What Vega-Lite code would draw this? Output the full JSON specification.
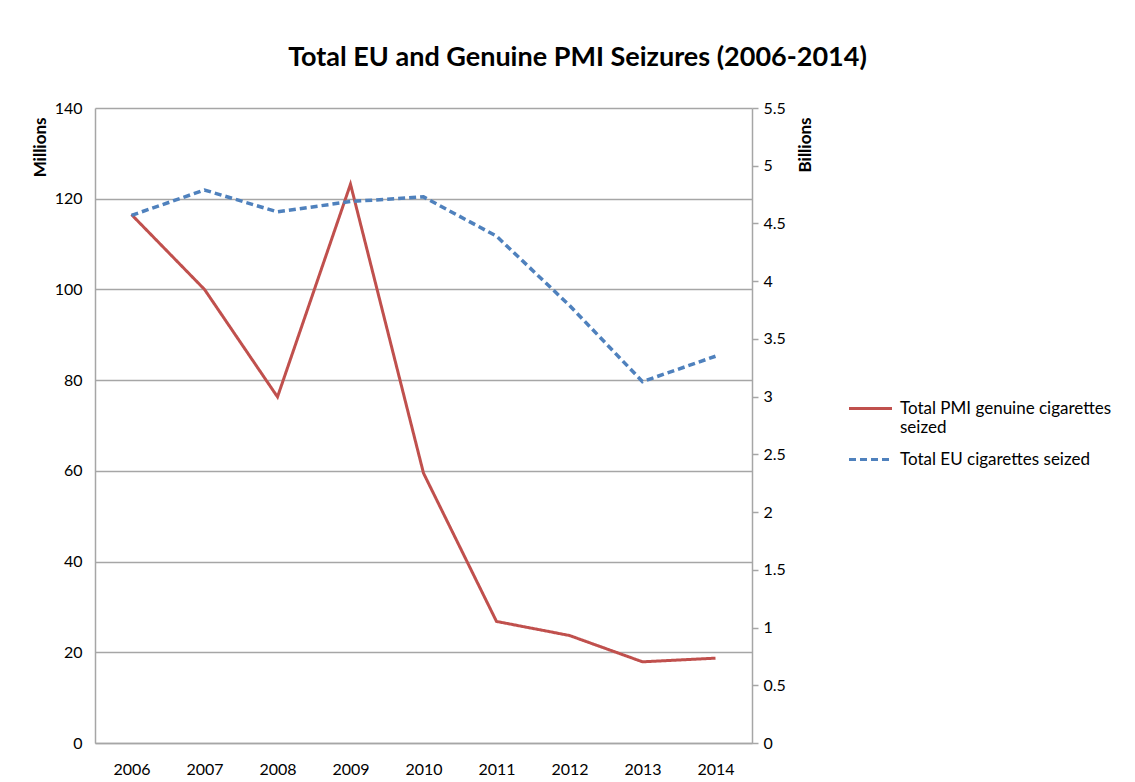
{
  "$schema": "https://vega.github.io/schema/vega-lite/v6.json",
  "width": 657,
  "height": 635,
  "autosize": {"type": "none"},
  "padding": {"left": 95, "top": 108, "right": 383, "bottom": 39},
  "background": "white",
  "config": {
    "font": "Lato",
    "view": {"stroke": null},
    "axis": {"labelColor": "#000000", "labelFontSize": 16, "domainColor": "#a6a6a6", "domainWidth": 1.5, "gridColor": "#a6a6a6", "gridWidth": 1.5, "tickColor": "#a6a6a6", "titleColor": "#000000"}
  },
  "title": {
    "text": "Total EU and Genuine PMI Seizures (2006-2014)",
    "fontSize": 27,
    "fontWeight": "bold",
    "color": "#000000",
    "anchor": "middle",
    "dx": 154,
    "offset": 28
  },
  "data": {
    "values": [
      {"year": "2006", "series": "Total PMI genuine cigarettes seized", "value": 116.5},
      {"year": "2007", "series": "Total PMI genuine cigarettes seized", "value": 100.0},
      {"year": "2008", "series": "Total PMI genuine cigarettes seized", "value": 76.3},
      {"year": "2009", "series": "Total PMI genuine cigarettes seized", "value": 123.2},
      {"year": "2010", "series": "Total PMI genuine cigarettes seized", "value": 59.5},
      {"year": "2011", "series": "Total PMI genuine cigarettes seized", "value": 26.8},
      {"year": "2012", "series": "Total PMI genuine cigarettes seized", "value": 23.7},
      {"year": "2013", "series": "Total PMI genuine cigarettes seized", "value": 17.9},
      {"year": "2014", "series": "Total PMI genuine cigarettes seized", "value": 18.7},
      {"year": "2006", "series": "Total EU cigarettes seized", "value": 4.57},
      {"year": "2007", "series": "Total EU cigarettes seized", "value": 4.79},
      {"year": "2008", "series": "Total EU cigarettes seized", "value": 4.6},
      {"year": "2009", "series": "Total EU cigarettes seized", "value": 4.69},
      {"year": "2010", "series": "Total EU cigarettes seized", "value": 4.73},
      {"year": "2011", "series": "Total EU cigarettes seized", "value": 4.39},
      {"year": "2012", "series": "Total EU cigarettes seized", "value": 3.79},
      {"year": "2013", "series": "Total EU cigarettes seized", "value": 3.13},
      {"year": "2014", "series": "Total EU cigarettes seized", "value": 3.35}
    ]
  },
  "encoding": {
    "x": {
      "field": "year",
      "type": "ordinal",
      "scale": {"type": "point", "padding": 0.5},
      "axis": {"title": null, "labelAngle": 0, "ticks": false, "labelPadding": 18, "grid": false}
    },
    "color": {
      "field": "series",
      "type": "nominal",
      "title": null,
      "scale": {"domain": ["Total PMI genuine cigarettes seized", "Total EU cigarettes seized"], "range": ["#C0504D", "#4F81BD"]},
      "legend": {
        "orient": "none",
        "legendX": 752,
        "legendY": 277,
        "symbolType": "stroke",
        "symbolSize": 1850,
        "symbolStrokeWidth": 3,
        "labelFontSize": 17,
        "labelColor": "#000000",
        "labelOffset": 6,
        "labelLimit": 400,
        "rowPadding": 0,
        "labelExpr": "datum.label == 'Total PMI genuine cigarettes seized' ? ['Total PMI genuine cigarettes', 'seized'] : datum.label"
      }
    },
    "strokeDash": {
      "field": "series",
      "type": "nominal",
      "title": null,
      "scale": {"domain": ["Total PMI genuine cigarettes seized", "Total EU cigarettes seized"], "range": [[1, 0], [7, 4]]}
    }
  },
  "layer": [
    {
      "transform": [{"filter": "datum.series == 'Total PMI genuine cigarettes seized'"}],
      "mark": {"type": "line", "strokeWidth": 3},
      "encoding": {
        "y": {
          "field": "value",
          "type": "quantitative",
          "scale": {"domain": [0, 140], "nice": false, "zero": true},
          "axis": {
            "orient": "left",
            "values": [0, 20, 40, 60, 80, 100, 120, 140],
            "ticks": false,
            "grid": true,
            "labelPadding": 13,
            "title": "Millions",
            "titleFontSize": 17,
            "titleFontWeight": "bold",
            "titleAnchor": "end",
            "titleAlign": "right",
            "titleBaseline": "middle",
            "titleAngle": -90,
            "titleX": -55,
            "titleY": 9
          }
        }
      }
    },
    {
      "transform": [{"filter": "datum.series == 'Total EU cigarettes seized'"}],
      "mark": {"type": "line", "strokeWidth": 3.5},
      "encoding": {
        "y": {
          "field": "value",
          "type": "quantitative",
          "scale": {"domain": [0, 5.5], "nice": false, "zero": true},
          "axis": {
            "orient": "right",
            "values": [0, 0.5, 1, 1.5, 2, 2.5, 3, 3.5, 4, 4.5, 5, 5.5],
            "format": "~g",
            "ticks": true,
            "tickSize": 6,
            "tickWidth": 1.5,
            "grid": false,
            "labelPadding": 5,
            "title": "Billions",
            "titleFontSize": 17,
            "titleFontWeight": "bold",
            "titleAnchor": "end",
            "titleAlign": "right",
            "titleBaseline": "middle",
            "titleAngle": -90,
            "titleX": 53,
            "titleY": 9
          }
        }
      }
    }
  ],
  "resolve": {"scale": {"y": "independent"}}
}
